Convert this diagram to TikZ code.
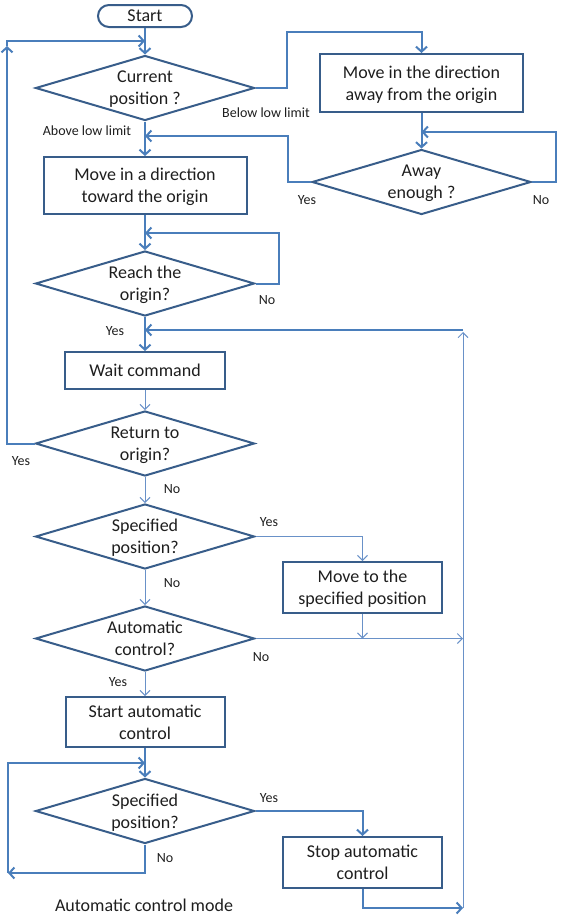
\documentclass[tikz,border=0pt]{standalone}
\usepackage{fontspec}
\setmainfont{Carlito}
\usetikzlibrary{shapes.geometric,arrows.meta}
\definecolor{linec}{RGB}{74,126,187}
\definecolor{linet}{RGB}{105,145,200}
\definecolor{boxc}{RGB}{56,93,138}
\definecolor{txt}{RGB}{30,30,30}
\tikzset{
  base/.style={font=\fontsize{18}{22}\selectfont, text=txt},
  box/.style={base, draw=boxc, line width=2pt, rectangle, inner sep=0pt, align=center, text depth=0pt},
  dia/.style={base, draw=boxc, line width=2pt, diamond, aspect=3.37, inner sep=0pt,
              minimum width=219pt, minimum height=65pt, align=center, text depth=0pt},
  conn/.style={draw=linec, line width=2pt, -{Straight Barb[length=5pt,width=11pt]}},
  thinconn/.style={draw=linet, line width=1pt, -{Straight Barb[length=5pt,width=10pt]}},
  lbl/.style={font=\fontsize{14}{16}\selectfont, text=txt, inner sep=0pt}
}
\begin{document}
\begin{tikzpicture}[x=1pt,y=-1pt]
\useasboundingbox (0,0) rectangle (563,918);

% nodes
\node[box, rounded corners=11pt, minimum width=94pt, minimum height=22pt] (start) at (145,16) {Start};
\node[dia] (d1) at (145,88) {Current\\position ?};
\node[box, minimum width=203pt, minimum height=58pt] (b1) at (421.5,83) {Move in the direction\\away from the origin};
\node[dia] (d2) at (421.5,182) {Away\\enough ?};
\node[box, minimum width=203pt, minimum height=57pt] (b2) at (145,185.5) {Move in a direction\\toward the origin};
\node[dia] (d3) at (145,283.5) {Reach the\\origin?};
\node[box, minimum width=160pt, minimum height=37pt] (b3) at (145,370.5) {Wait command};
\node[dia] (d4) at (145,443.5) {Return to\\origin?};
\node[dia] (d5) at (145,536.5) {Specified\\position?};
\node[box, minimum width=159pt, minimum height=51pt] (b4) at (362.5,587.5) {Move to the\\specified position};
\node[dia] (d6) at (145,638.5) {Automatic\\control?};
\node[box, minimum width=159pt, minimum height=50pt] (b5) at (145,722) {Start automatic\\control};
\node[dia] (d7) at (145,811) {Specified\\position?};
\node[box, minimum width=159pt, minimum height=51pt] (b6) at (362.5,862.5) {Stop automatic\\control};

% helper coordinates
\coordinate (m0) at (145,41);
\coordinate (lc1) at (7,46);
\coordinate (t1) at (287,32);
\coordinate (t2) at (556,132);
\coordinate (m2) at (421.5,132);
\coordinate (t3) at (288,136);
\coordinate (m1) at (145,136);
\coordinate (t4) at (279,233);
\coordinate (m3) at (145,233);
\coordinate (rt) at (463,332);
\coordinate (rt2) at (463,330);
\coordinate (m4) at (145,330);
\coordinate (m6) at (362.5,638.5);
\coordinate (r6) at (463,638.5);
\coordinate (m7) at (145,763);
\coordinate (lc7) at (8,873);
\coordinate (r8) at (463,908);

% connectors
\draw[conn] (start.south) -- (d1.north);
\draw[conn] (d4.west) -| (lc1);
\draw[conn] (lc1) |- (m0);
\draw[conn] (d1.east) -| (t1) -| (b1.north);
\draw[conn] (b1.south) -- (d2.north);
\draw[conn] (d2.east) -| (t2) -- (m2);
\draw[conn] (d2.west) -| (t3) -- (m1);
\draw[conn] (d1.south) -- (b2.north);
\draw[conn] (b2.south) -- (d3.north);
\draw[conn] (d3.east) -| (t4) -- (m3);
\draw[conn] (d3.south) -- (b3.north);
\draw[thinconn] (b3.south) -- (d4.north);
\draw[thinconn] (d4.south) -- (d5.north);
\draw[thinconn] (d5.east) -| (b4.north);
\draw[thinconn] (d5.south) -- (d6.north);
\draw[thinconn] (b4.south) -- (m6);
\draw[thinconn] (d6.east) -- (r6);
\draw[thinconn] (d6.south) -- (b5.north);
\draw[conn] (b5.south) -- (d7.north);
\draw[conn] (d7.south) |- (lc7);
\draw[conn] (lc7) |- (m7);
\draw[conn] (d7.east) -| (b6.north);
\draw[conn] (b6.south) |- (r8);
\draw[thinconn] (r8) -- (rt);
\draw[conn] (rt2) -- (m4);

% labels
\node[lbl] (lbelow) at (266,113) {Below low limit};
\node[lbl] (labove) at (87,131) {Above low limit};
\node[lbl] (ly2) at (307,200) {Yes};
\node[lbl] (ln2) at (541,200) {No};
\node[lbl] (ln3) at (267,300) {No};
\node[lbl] (ly3) at (115,331) {Yes};
\node[lbl] (ly4) at (21,461) {Yes};
\node[lbl] (ln4) at (172,489) {No};
\node[lbl] (ly5) at (269,522) {Yes};
\node[lbl] (ln5) at (172,583) {No};
\node[lbl] (ln6) at (261,657) {No};
\node[lbl] (ly6) at (118,682) {Yes};
\node[lbl] (ly7) at (269,798) {Yes};
\node[lbl] (ln7) at (165,858) {No};
\node[base, inner sep=0pt] (mode) at (144,905) {Automatic control mode};
\end{tikzpicture}
\end{document}
